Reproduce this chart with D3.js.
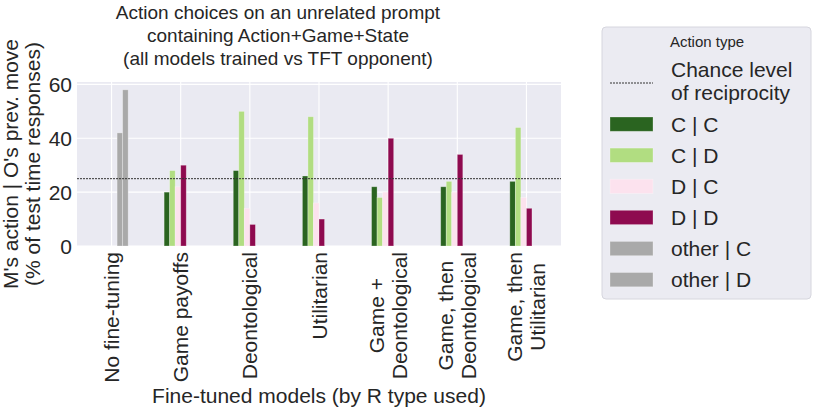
<!DOCTYPE html>
<html>
<head>
<meta charset="utf-8">
<script src="https://cdn.jsdelivr.net/npm/d3@7"></script>
<style>
  body { margin: 0; background: #fff; }
  svg text { font-family: "Liberation Sans", Arial, sans-serif; fill: #262626; }
</style>
</head>
<body>
<div id="chart"></div>
<script>
// data
var categories = ["No fine-tuning", "Game payoffs", "Deontological", "Utilitarian",
                  "Game +\nDeontological", "Game, then\nDeontological", "Game, then\nUtilitarian"];
var seriesNames = ["C | C", "C | D", "D | C", "D | D", "other | C", "other | D"];
var CC     = [0, 20, 28, 26, 22, 22, 24];
var CD     = [0, 28, 50, 48, 18, 24, 44];
var DC     = [0, 22, 14, 16, 20, 20, 18];
var DD     = [0, 30,  8, 10, 40, 34, 14];
var otherC = [42, 0, 0, 0, 0, 0, 0];
var otherD = [58, 0, 0, 0, 0, 0, 0];
var chance = 25;
var yTicks = [0, 20, 40, 60];
var colors = ["#2a6420", "#b1dd81", "#fce2ee", "#8e0a4f", "#a9a9a9", "#a9a9a9"];

var values = [CC, CD, DC, DD, otherC, otherD];

var width = 814, height = 411;
var Plot = { left: 77, right: 561, top: 82, bottom: 246 };

var svg = d3.select("#chart").append("svg")
    .attr("width", width)
    .attr("height", height);

var x = d3.scaleBand().domain(categories).range([Plot.left, Plot.right]).padding(0);
var y = d3.scaleLinear().domain([0, 60.9]).range([Plot.bottom, Plot.top]);
var bw = x.bandwidth();
var barW = 0.08 * bw;
var xInner = d3.scaleBand().domain(seriesNames)
    .range([bw / 2 - 3 * barW, bw / 2 + 3 * barW]).padding(0);

// background
svg.append("rect")
    .attr("x", Plot.left).attr("y", Plot.top)
    .attr("width", Plot.right - Plot.left).attr("height", Plot.bottom - Plot.top)
    .attr("fill", "#eaeaf2");

// grid
svg.append("g").selectAll("line.h")
    .data(yTicks).enter().append("line")
    .attr("x1", Plot.left).attr("x2", Plot.right)
    .attr("y1", d => y(d)).attr("y2", d => y(d))
    .attr("stroke", "#fff").attr("stroke-width", 1.1);
svg.append("g").selectAll("line.v")
    .data(categories).enter().append("line")
    .attr("x1", d => x(d) + bw / 2).attr("x2", d => x(d) + bw / 2)
    .attr("y1", Plot.top).attr("y2", Plot.bottom)
    .attr("stroke", "#fff").attr("stroke-width", 1.1);

// bars
var bars = [];
values.forEach((arr, s) => {
    arr.forEach((v, i) => {
        if (v > 0) bars.push({ cat: categories[i], series: seriesNames[s], s: s, value: v });
    });
});
svg.append("g").selectAll("rect")
    .data(bars).enter().append("rect")
    .attr("x", d => x(d.cat) + xInner(d.series))
    .attr("width", xInner.bandwidth())
    .attr("y", d => y(d.value))
    .attr("height", d => y(0) - y(d.value))
    .attr("fill", d => colors[d.s])
    .attr("stroke", "#fff").attr("stroke-opacity", 0.35).attr("stroke-width", 0.8);

// chance line
svg.append("line")
    .attr("x1", Plot.left).attr("x2", Plot.right)
    .attr("y1", y(chance)).attr("y2", y(chance))
    .attr("stroke", "#333").attr("stroke-width", 1)
    .attr("stroke-dasharray", "2,1");

// y ticks
svg.append("g").selectAll("text")
    .data(yTicks).enter().append("text")
    .attr("x", Plot.left - 5).attr("y", d => y(d))
    .attr("dy", "0.36em")
    .attr("text-anchor", "end")
    .attr("font-size", 21)
    .text(d => d);

// x tick labels (rotated, multi-line centred)
var tickG = svg.append("g");
categories.forEach(c => {
    var lines = c.split("\n");
    var cx = x(c) + bw / 2;
    var g = tickG.append("g");
    var texts = lines.map((l, k) => g.append("text")
        .attr("font-size", 21)
        .attr("text-anchor", "middle")
        .attr("dominant-baseline", "central")
        .text(l));
    var maxLen = d3.max(texts, t => t.node().getComputedTextLength());
    var cy = Plot.bottom + 6 + maxLen / 2;
    texts.forEach((t, k) => {
        var off = (k - (lines.length - 1) / 2) * 23;
        t.attr("transform", `translate(${cx + off}, ${cy}) rotate(-90)`);
    });
});

// axis labels
svg.append("text")
    .attr("x", (Plot.left + Plot.right) / 2).attr("y", 403)
    .attr("text-anchor", "middle").attr("font-size", 21)
    .text("Fine-tuned models (by R type used)");
var yl = svg.append("text")
    .attr("transform", `translate(18, ${(Plot.top + Plot.bottom) / 2}) rotate(-90)`)
    .attr("text-anchor", "middle").attr("font-size", 21);
yl.append("tspan").attr("x", 0).attr("y", 0).text("M's action | O's prev. move");
yl.append("tspan").attr("x", 0).attr("y", 22).text("(% of test time responses)");

// title
var titleLines = ["Action choices on an unrelated prompt",
                  "containing Action+Game+State",
                  "(all models trained vs TFT opponent)"];
svg.append("g").selectAll("text")
    .data(titleLines).enter().append("text")
    .attr("x", 278).attr("y", (d, i) => 19 + i * 23)
    .attr("text-anchor", "middle").attr("font-size", 19)
    .text(d => d);

// legend
var Legend = { left: 602, top: 27, w: 209, h: 272 };
var legend = svg.append("g").attr("transform", `translate(${Legend.left}, ${Legend.top})`);
legend.append("rect")
    .attr("width", Legend.w).attr("height", Legend.h)
    .attr("rx", 4).attr("fill", "#ebebf2")
    .attr("stroke", "#d6d6de").attr("stroke-width", 1);
legend.append("text")
    .attr("x", 105).attr("y", 20)
    .attr("text-anchor", "middle").attr("font-size", 15)
    .text("Action type");
legend.append("line")
    .attr("x1", 8).attr("x2", 51).attr("y1", 56).attr("y2", 56)
    .attr("stroke", "#333").attr("stroke-width", 1).attr("stroke-dasharray", "2,1");
var ch = legend.append("text").attr("font-size", 21);
ch.append("tspan").attr("x", 69).attr("y", 50).text("Chance level");
ch.append("tspan").attr("x", 69).attr("y", 73).text("of reciprocity");

var entries = legend.append("g").selectAll("g")
    .data(seriesNames).enter().append("g")
    .attr("transform", (d, i) => `translate(8, ${90 + i * 31.1})`);
entries.append("rect")
    .attr("width", 43).attr("height", 14.3)
    .attr("fill", (d, i) => colors[i])
    .attr("stroke", "#fff").attr("stroke-opacity", 0.35).attr("stroke-width", 0.8);
entries.append("text")
    .attr("x", 61).attr("y", 7.2)
    .attr("dy", "0.36em").attr("font-size", 21)
    .text(d => d);
</script>
</body>
</html>
